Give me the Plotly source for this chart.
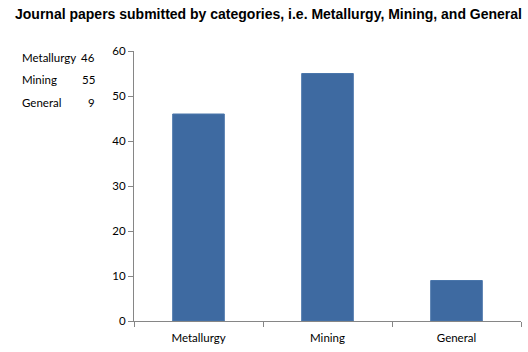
import plotly.graph_objects as go

categories = ["Metallurgy", "Mining", "General"]
papers = [46, 55, 9]
title_text = "Journal papers submitted by categories, i.e. Metallurgy, Mining, and General"

W, H = 528, 352
L, R, T, B = 134, 7, 51, 31
pw, ph = W - L - R, H - T - B

def px(x):
    return (x - L) / pw

def py(y):
    return (H - B - y) / ph

fig = go.Figure(go.Bar(
    x=categories, y=papers,
    marker=dict(color="#3E6AA1", line=dict(color="#4A76AB", width=1)),
    width=0.4,
))

font_body = "Lato, Open Sans, sans-serif"
annotations = []
rows_y = [57, 79, 102]
for cat, val, yy in zip(categories, papers, rows_y):
    annotations.append(dict(x=px(20), y=py(yy), xref="paper", yref="paper", text=cat,
                            showarrow=False, xanchor="left", yanchor="middle",
                            font=dict(family=font_body, size=11.5, color="#000")))
    annotations.append(dict(x=px(97), y=py(yy), xref="paper", yref="paper", text=str(val),
                            showarrow=False, xanchor="right", yanchor="middle",
                            font=dict(family=font_body, size=11.5, color="#000")))

fig.update_layout(
    width=W, height=H,
    margin=dict(l=L, r=R, t=T, b=B),
    paper_bgcolor="white", plot_bgcolor="white",
    showlegend=False,
    title=dict(text="<b>" + title_text + "</b>", x=15 / W, xanchor="left", xref="container",
               y=1 - 14 / H, yanchor="middle", yref="container",
               font=dict(family="Liberation Sans, Arial, sans-serif", size=14, color="#000")),
    annotations=annotations,
    xaxis=dict(type="category", showline=True, linecolor="#868686", linewidth=1,
               ticks="outside", tickson="boundaries", ticklen=5, tickcolor="#868686",
               ticklabelstandoff=6,
               showgrid=False, tickfont=dict(family=font_body, size=11.5, color="#000")),
    yaxis=dict(range=[0, 60], dtick=10, showline=True, linecolor="#868686", linewidth=1,
               ticks="outside", ticklen=5, tickcolor="#868686", showgrid=False,
               zeroline=False, tickfont=dict(family=font_body, size=11.5, color="#000")),
)

fig.write_html("out.html", config={"displayModeBar": False},
               post_script="document.body.style.margin='0';")
